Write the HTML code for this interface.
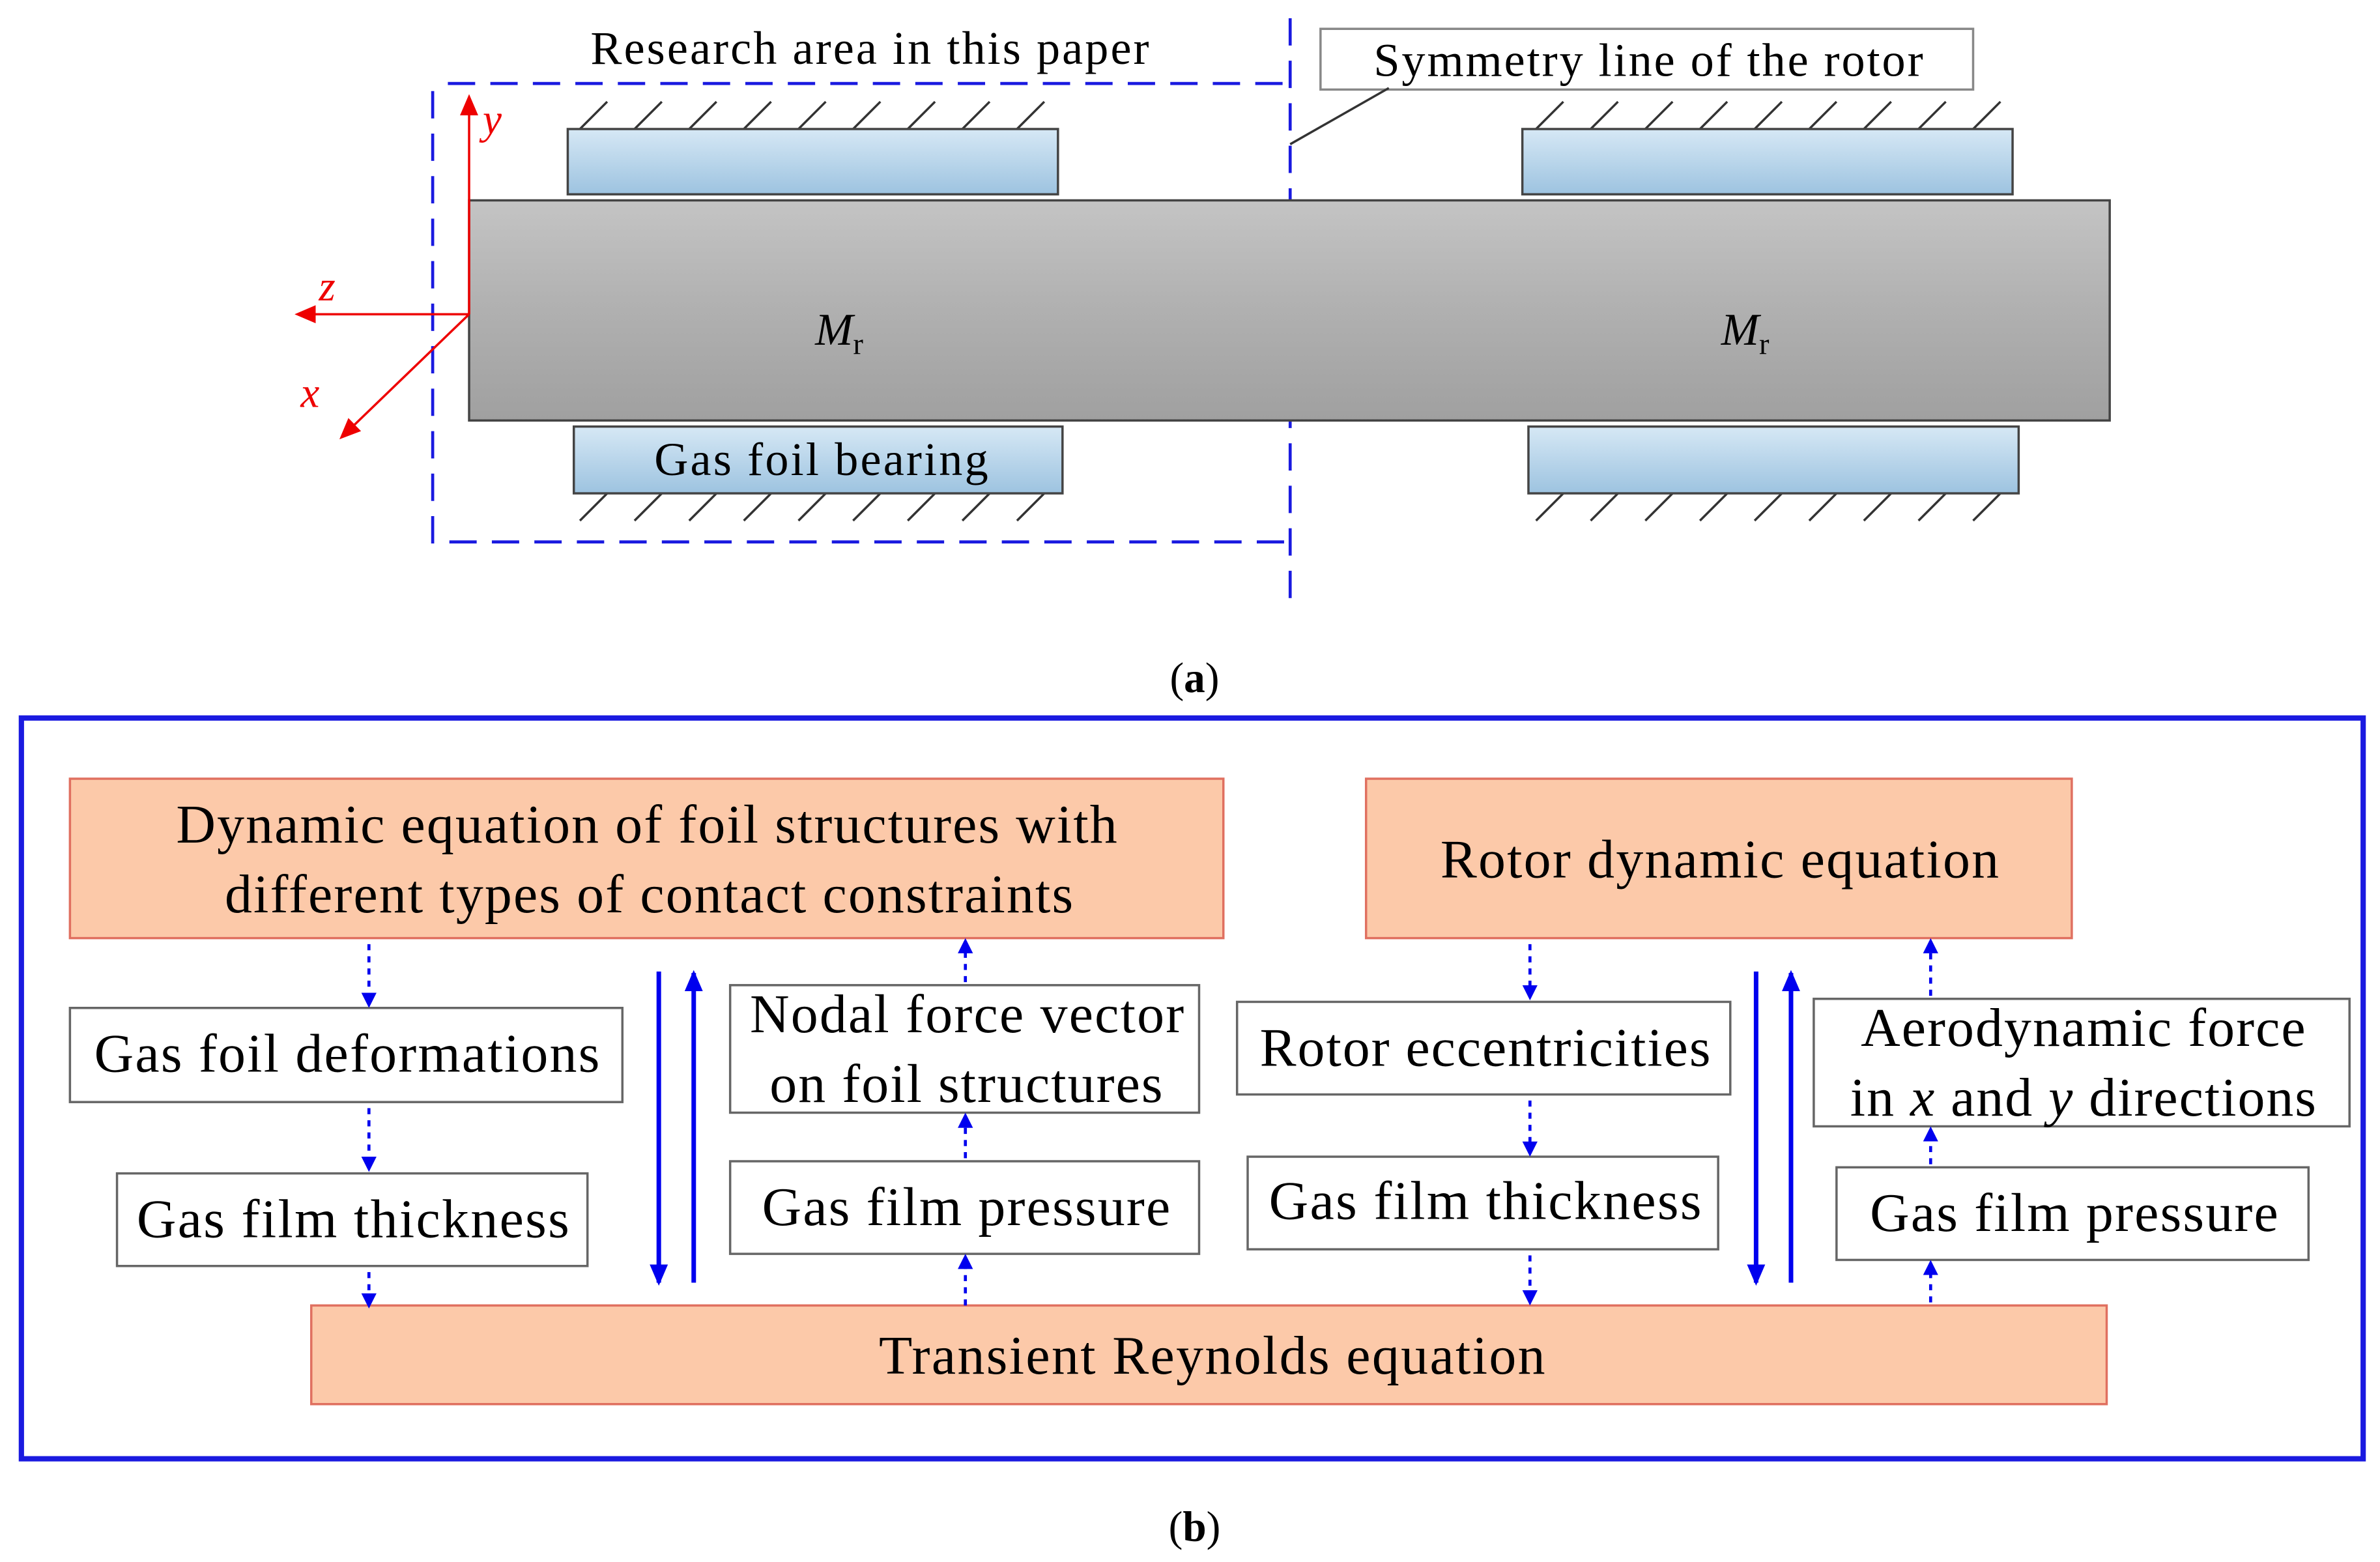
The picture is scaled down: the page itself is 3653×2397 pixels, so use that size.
<!DOCTYPE html>
<html><head><meta charset="utf-8"><style>
html,body{margin:0;padding:0;background:#fff;}
svg{display:block;}
text{font-family:"Liberation Serif",serif;fill:#000;}
</style></head><body>
<svg width="3653" height="2397" viewBox="0 0 1568 1029" xmlns="http://www.w3.org/2000/svg">
<defs>
<linearGradient id="bl" x1="0" y1="0" x2="0" y2="1"><stop offset="0" stop-color="#d6e8f5"/><stop offset="1" stop-color="#9dc3e0"/></linearGradient>
<linearGradient id="gr" x1="0" y1="0" x2="0" y2="1"><stop offset="0" stop-color="#c4c4c4"/><stop offset="0.5" stop-color="#b0b0b0"/><stop offset="1" stop-color="#a0a0a0"/></linearGradient>
<marker id="ab" markerWidth="10" markerHeight="10" refX="8" refY="5" orient="auto" markerUnits="userSpaceOnUse"><path d="M0,0 L10,5 L0,10 Z" fill="#0000ee"/></marker>
<marker id="abs" markerWidth="14" markerHeight="12" refX="12" refY="6" orient="auto" markerUnits="userSpaceOnUse"><path d="M0,0 L14,6 L0,12 Z" fill="#0000ee"/></marker>
<marker id="ar" markerWidth="14" markerHeight="12" refX="12" refY="6" orient="auto" markerUnits="userSpaceOnUse"><path d="M0,0 L14,6 L0,12 Z" fill="#ee0000"/></marker>
</defs>

<!-- Part (a) -->
<g stroke="#1a1ae0" stroke-width="2" stroke-dasharray="18,10" fill="none">
<path d="M295,55 H850"/>
<path d="M285,60 V357 H850"/>
<path d="M850,12 V400"/>
</g>
<text x="389" y="42" font-size="31" textLength="368" lengthAdjust="spacing">Research area in this paper</text>
<rect x="870" y="19" width="430" height="40" fill="#fff" stroke="#888" stroke-width="1.5"/>
<text x="905" y="50" font-size="31" textLength="362" lengthAdjust="spacing">Symmetry line of the rotor</text>
<line x1="915" y1="58" x2="850" y2="95" stroke="#333" stroke-width="1.5"/>

<g stroke="#333" stroke-width="1.5">
<path d="M382,85 l18,-18 M418,85 l18,-18 M454,85 l18,-18 M490,85 l18,-18 M526,85 l18,-18 M562,85 l18,-18 M598,85 l18,-18 M634,85 l18,-18 M670,85 l18,-18"/>
<path d="M1012,85 l18,-18 M1048,85 l18,-18 M1084,85 l18,-18 M1120,85 l18,-18 M1156,85 l18,-18 M1192,85 l18,-18 M1228,85 l18,-18 M1264,85 l18,-18 M1300,85 l18,-18"/>
<path d="M382,343 l18,-18 M418,343 l18,-18 M454,343 l18,-18 M490,343 l18,-18 M526,343 l18,-18 M562,343 l18,-18 M598,343 l18,-18 M634,343 l18,-18 M670,343 l18,-18"/>
<path d="M1012,343 l18,-18 M1048,343 l18,-18 M1084,343 l18,-18 M1120,343 l18,-18 M1156,343 l18,-18 M1192,343 l18,-18 M1228,343 l18,-18 M1264,343 l18,-18 M1300,343 l18,-18"/>
</g>
<rect x="374" y="85" width="323" height="43" fill="url(#bl)" stroke="#444" stroke-width="1.5"/>
<rect x="1003" y="85" width="323" height="43" fill="url(#bl)" stroke="#444" stroke-width="1.5"/>
<rect x="309" y="132" width="1081" height="145" fill="url(#gr)" stroke="#444" stroke-width="1.5"/>
<rect x="378" y="281" width="322" height="44" fill="url(#bl)" stroke="#444" stroke-width="1.5"/>
<rect x="1007" y="281" width="323" height="44" fill="url(#bl)" stroke="#444" stroke-width="1.5"/>
<text x="431" y="313" font-size="31" textLength="220" lengthAdjust="spacing">Gas foil bearing</text>
<text x="537" y="227" font-size="30" font-style="italic">M<tspan font-size="20" font-style="normal" dy="6">r</tspan></text>
<text x="1134" y="227" font-size="30" font-style="italic">M<tspan font-size="20" font-style="normal" dy="6">r</tspan></text>
<g stroke="#ee0000" stroke-width="1.5">
<line x1="309" y1="207" x2="309" y2="64" marker-end="url(#ar)"/>
<line x1="309" y1="207" x2="196" y2="207" marker-end="url(#ar)"/>
<line x1="309" y1="207" x2="225" y2="288" marker-end="url(#ar)"/>
</g>
<text x="318" y="88" font-size="28" font-style="italic" style="fill:#ee0000">y</text>
<text x="210" y="198" font-size="28" font-style="italic" style="fill:#ee0000">z</text>
<text x="198" y="268" font-size="28" font-style="italic" style="fill:#ee0000">x</text>
<text x="787" y="456" font-size="28" text-anchor="middle">(<tspan font-weight="bold">a</tspan>)</text>

<!-- Part (b) -->
<rect x="14" y="473" width="1543" height="488" fill="none" stroke="#1a1ae0" stroke-width="3.5"/>
<g fill="#fcc9a9" stroke="#e07060" stroke-width="1.5">
<rect x="46" y="513" width="760" height="105"/>
<rect x="900" y="513" width="465" height="105"/>
<rect x="205" y="860" width="1183" height="65"/>
</g>
<g font-size="36" lengthAdjust="spacing">
<text x="116" y="555" textLength="620">Dynamic equation of foil structures with</text>
<text x="148" y="601" textLength="559">different types of contact constraints</text>
<text x="949" y="578" textLength="368">Rotor dynamic equation</text>
<text x="579" y="905" textLength="439">Transient Reynolds equation</text>
</g>
<g fill="#fff" stroke="#666" stroke-width="1.5">
<rect x="46" y="664" width="364" height="62"/>
<rect x="77" y="773" width="310" height="61"/>
<rect x="481" y="649" width="309" height="84"/>
<rect x="481" y="765" width="309" height="61"/>
<rect x="815" y="660" width="325" height="61"/>
<rect x="822" y="762" width="310" height="61"/>
<rect x="1195" y="658" width="353" height="84"/>
<rect x="1210" y="769" width="311" height="61"/>
</g>
<g font-size="36" lengthAdjust="spacing">
<text x="62" y="706" textLength="333">Gas foil deformations</text>
<text x="90" y="815" textLength="285">Gas film thickness</text>
<text x="494" y="680" textLength="286">Nodal force vector</text>
<text x="507" y="726" textLength="259">on foil structures</text>
<text x="502" y="807" textLength="269">Gas film pressure</text>
<text x="830" y="702" textLength="297">Rotor eccentricities</text>
<text x="836" y="803" textLength="285">Gas film thickness</text>
<text x="1226" y="689" textLength="293">Aerodynamic force</text>
<text x="1219" y="735" textLength="307">in <tspan font-style="italic">x</tspan> and <tspan font-style="italic">y</tspan> directions</text>
<text x="1232" y="811" textLength="269">Gas film pressure</text>
</g>
<g stroke="#0000ee" stroke-width="2" stroke-dasharray="4,4" marker-end="url(#ab)">
<line x1="243" y1="622" x2="243" y2="662"/>
<line x1="243" y1="730" x2="243" y2="770"/>
<line x1="243" y1="838" x2="243" y2="860"/>
<line x1="636" y1="860" x2="636" y2="828"/>
<line x1="636" y1="763" x2="636" y2="735"/>
<line x1="636" y1="647" x2="636" y2="620"/>
<line x1="1008" y1="622" x2="1008" y2="657"/>
<line x1="1008" y1="725" x2="1008" y2="760"/>
<line x1="1008" y1="827" x2="1008" y2="858"/>
<line x1="1272" y1="656" x2="1272" y2="620"/>
<line x1="1272" y1="767" x2="1272" y2="744"/>
<line x1="1272" y1="858" x2="1272" y2="832"/>
</g>
<g stroke="#0000ee" stroke-width="3" marker-end="url(#abs)">
<line x1="434" y1="640" x2="434" y2="845"/>
<line x1="457" y1="845" x2="457" y2="641"/>
<line x1="1157" y1="640" x2="1157" y2="845"/>
<line x1="1180" y1="845" x2="1180" y2="641"/>
</g>
<text x="787" y="1015" font-size="28" text-anchor="middle">(<tspan font-weight="bold">b</tspan>)</text>
</svg>
</body></html>
